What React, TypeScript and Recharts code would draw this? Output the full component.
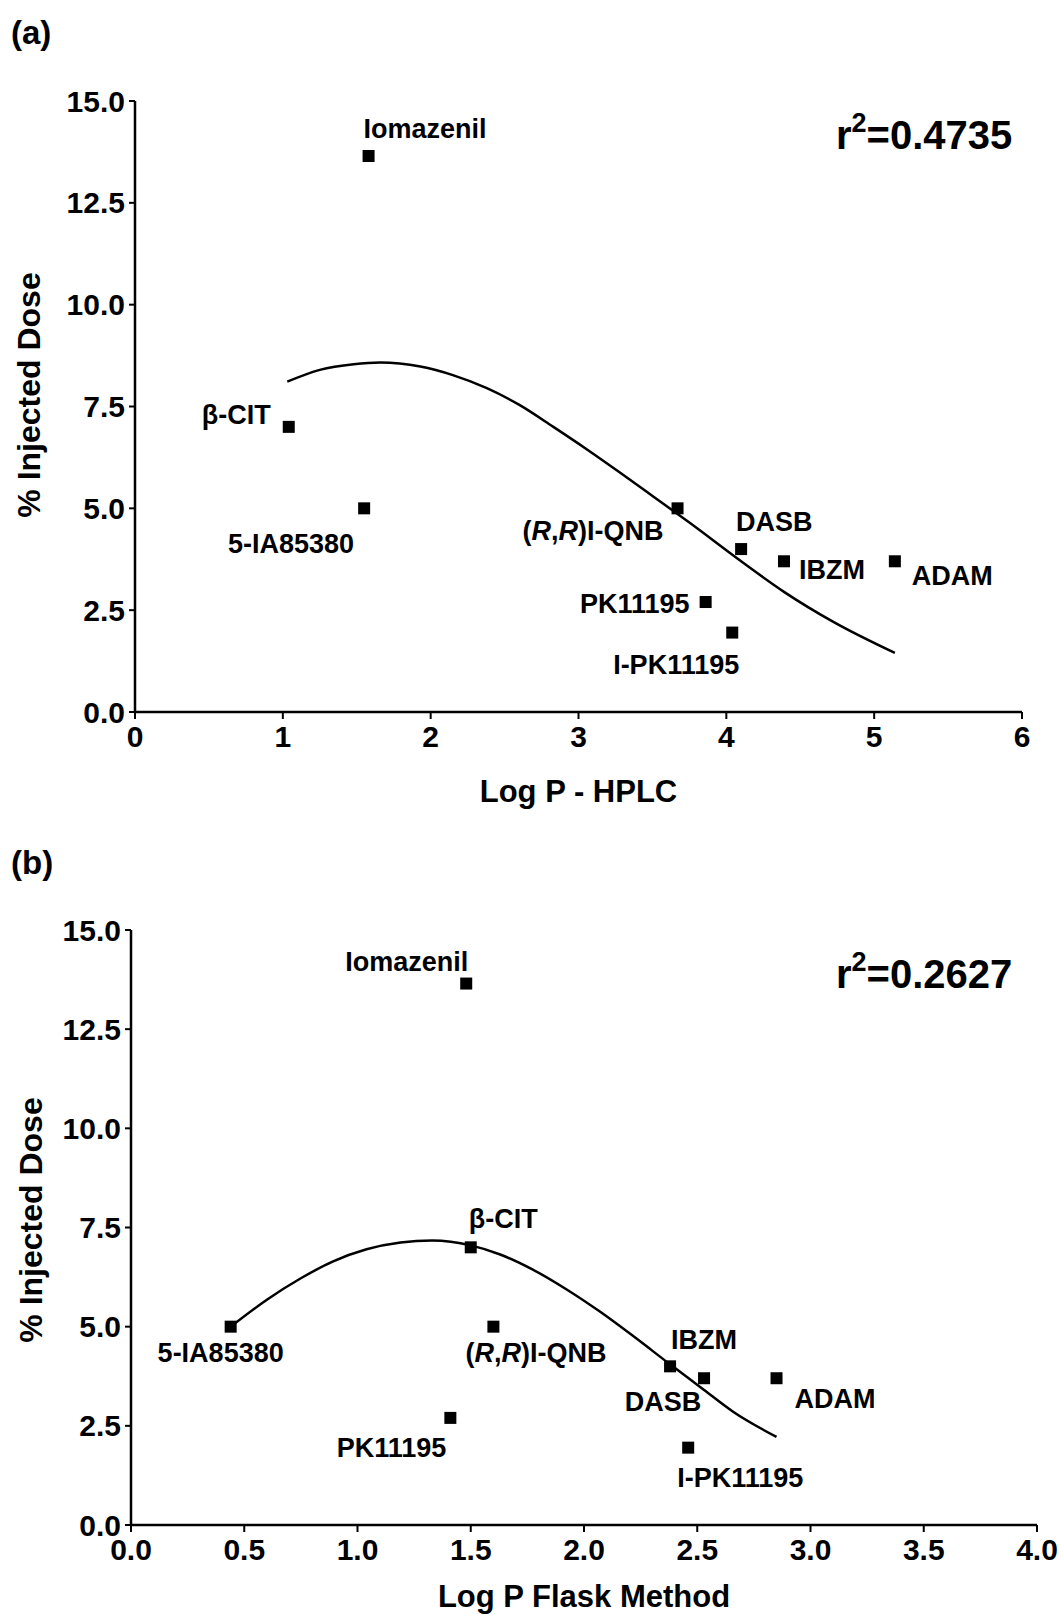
import React from "react";
import { ScatterChart, Scatter, XAxis, YAxis, Label } from "recharts";

const FONT = '"Liberation Sans", Arial, Helvetica, sans-serif';

// compounds, same order in both panels
const compounds = [
  "Iomazenil",
  "β-CIT",
  "5-IA85380",
  "(R,R)I-QNB",
  "DASB",
  "IBZM",
  "ADAM",
  "PK11195",
  "I-PK11195",
];
const injectedDose = [13.65, 7.0, 5.0, 5.0, 4.0, 3.7, 3.7, 2.7, 1.95];
const logPHplc = [1.58, 1.04, 1.55, 3.67, 4.1, 4.39, 5.14, 3.86, 4.04];
const logPFlask = [1.48, 1.5, 0.44, 1.6, 2.38, 2.53, 2.85, 1.41, 2.46];

// fitted curves
const fitHplcX = [1.03, 1.25, 1.48, 1.66, 1.93, 2.15, 2.38, 2.6, 2.83, 3.06, 3.28, 3.51, 3.75, 4.1, 4.39, 4.73, 5.14];
const fitHplcY = [8.11, 8.4, 8.54, 8.58, 8.48, 8.27, 7.95, 7.54, 7.0, 6.44, 5.88, 5.28, 4.65, 3.7, 2.95, 2.2, 1.45];
const fitFlaskX = [0.44, 0.6, 0.75, 0.89, 1.04, 1.19, 1.33, 1.5, 1.63, 1.77, 1.92, 2.07, 2.22, 2.38, 2.52, 2.66, 2.85];
const fitFlaskY = [5.0, 5.68, 6.22, 6.64, 6.95, 7.12, 7.17, 7.05, 6.82, 6.45, 5.95, 5.38, 4.75, 4.05, 3.45, 2.85, 2.22];

const hplcTicks = [0, 1, 2, 3, 4, 5, 6];
const flaskTicks = [0, 0.5, 1, 1.5, 2, 2.5, 3, 3.5, 4];
const doseTicks = [0, 2.5, 5, 7.5, 10, 12.5, 15];

type LabelPos = { dx: number; dy: number; anchor: "start" | "middle" | "end" };

const hplcLabelPos: Record<string, LabelPos> = {
  Iomazenil: { dx: -5, dy: -18, anchor: "start" },
  "β-CIT": { dx: -18, dy: -3, anchor: "end" },
  "5-IA85380": { dx: -10, dy: 45, anchor: "end" },
  "(R,R)I-QNB": { dx: -14, dy: 32, anchor: "end" },
  DASB: { dx: -5, dy: -18, anchor: "start" },
  IBZM: { dx: 15, dy: 18, anchor: "start" },
  ADAM: { dx: 17, dy: 24, anchor: "start" },
  PK11195: { dx: -16, dy: 11, anchor: "end" },
  "I-PK11195": { dx: 7, dy: 41, anchor: "end" },
};

const flaskLabelPos: Record<string, LabelPos> = {
  Iomazenil: { dx: 2, dy: -13, anchor: "end" },
  "β-CIT": { dx: -2, dy: -19, anchor: "start" },
  "5-IA85380": { dx: -10, dy: 35, anchor: "middle" },
  "(R,R)I-QNB": { dx: -28, dy: 35, anchor: "start" },
  DASB: { dx: -7, dy: 45, anchor: "middle" },
  IBZM: { dx: 0, dy: -29, anchor: "middle" },
  ADAM: { dx: 18, dy: 30, anchor: "start" },
  PK11195: { dx: -4, dy: 39, anchor: "end" },
  "I-PK11195": { dx: -11, dy: 39, anchor: "start" },
};

const axisText = { fill: "#000", fontSize: 30, fontWeight: "bold", fontFamily: FONT };

// (R,R) prefix is set in italics
function nameParts(name: string) {
  if (name.startsWith("(R,R)")) {
    return [
      <tspan key="a">(</tspan>,
      <tspan key="b" fontStyle="italic">R</tspan>,
      <tspan key="c">,</tspan>,
      <tspan key="d" fontStyle="italic">R</tspan>,
      <tspan key="e">{")" + name.slice(5)}</tspan>,
    ];
  }
  return name;
}

function makeMarker(pos: Record<string, LabelPos>) {
  return (props: any) => {
    const { cx, cy, payload } = props;
    const p = pos[payload.name];
    return (
      <g>
        <rect x={cx - 6} y={cy - 6} width={12} height={12} fill="#000" />
        <text
          x={cx + p.dx}
          y={cy + p.dy}
          textAnchor={p.anchor}
          fontFamily={FONT}
          fontWeight="bold"
          fontSize={27}
          fill="#000"
        >
          {nameParts(payload.name)}
        </text>
      </g>
    );
  };
}

const yTitle = (x: number, y: number) => () => (
  <text
    x={x}
    y={y}
    transform={`rotate(-90 ${x} ${y})`}
    textAnchor="middle"
    fontFamily={FONT}
    fontWeight="bold"
    fontSize={32}
    fill="#000"
  >
    % Injected Dose
  </text>
);

function Panel({
  xs,
  fitX,
  fitY,
  ticks,
  xMax,
  xTitle,
  labelPos,
  height,
  margin,
  xAxisHeight,
  xTitleOffset,
  yTitlePos,
  fmt,
}: {
  xs: number[];
  fitX: number[];
  fitY: number[];
  ticks: number[];
  xMax: number;
  xTitle: string;
  labelPos: Record<string, LabelPos>;
  height: number;
  margin: { top: number; right: number; left: number; bottom: number };
  xAxisHeight: number;
  xTitleOffset: number;
  yTitlePos: [number, number];
  fmt: (v: number) => string;
}) {
  const points = compounds.map((name, i) => ({ name, x: xs[i], y: injectedDose[i] }));
  const fit = fitX.map((x, i) => ({ x, y: fitY[i] }));
  return (
    <ScatterChart width={1061} height={height} margin={margin}>
      <XAxis
        type="number"
        dataKey="x"
        domain={[0, xMax]}
        ticks={ticks}
        interval={0}
        height={xAxisHeight}
        axisLine={{ stroke: "#000", strokeWidth: 2.5 }}
        tickLine={{ stroke: "#000", strokeWidth: 2 }}
        tickSize={7}
        tickMargin={7}
        tick={axisText}
        tickFormatter={fmt}
      >
        <Label
          value={xTitle}
          position="insideBottom"
          offset={xTitleOffset}
          fill="#000"
          fontSize={31}
          fontWeight="bold"
          fontFamily={FONT}
        />
      </XAxis>
      <YAxis
        type="number"
        dataKey="y"
        domain={[0, 15]}
        ticks={doseTicks}
        interval={0}
        width={80}
        axisLine={{ stroke: "#000", strokeWidth: 2.5 }}
        tickLine={{ stroke: "#000", strokeWidth: 2 }}
        tickSize={6}
        tickMargin={4}
        tick={axisText}
        tickFormatter={(v: number) => v.toFixed(1)}
      >
        <Label content={yTitle(yTitlePos[0], yTitlePos[1])} />
      </YAxis>
      <Scatter
        data={fit}
        line={{ stroke: "#000", strokeWidth: 2.5 }}
        lineJointType="monotoneX"
        shape={() => <g />}
        isAnimationActive={false}
      />
      <Scatter data={points} shape={makeMarker(labelPos)} isAnimationActive={false} />
    </ScatterChart>
  );
}

const heading = { position: "absolute" as const, fontFamily: FONT, fontWeight: "bold" as const, color: "#000", lineHeight: 1 };

export default function App() {
  return (
    <div style={{ position: "absolute", left: 0, top: 0, width: 1061, height: 1615, background: "#fff", overflow: "hidden" }}>
      <div style={{ position: "absolute", left: 0, top: 0 }}>
        <Panel
          xs={logPHplc}
          fitX={fitHplcX}
          fitY={fitHplcY}
          ticks={hplcTicks}
          xMax={6}
          xTitle="Log P - HPLC"
          labelPos={hplcLabelPos}
          height={820}
          margin={{ top: 101, right: 39, left: 55, bottom: 8 }}
          xAxisHeight={100}
          xTitleOffset={10}
          yTitlePos={[40, 395]}
          fmt={(v: number) => String(v)}
        />
      </div>
      <div style={{ position: "absolute", left: 0, top: 820 }}>
        <Panel
          xs={logPFlask}
          fitX={fitFlaskX}
          fitY={fitFlaskY}
          ticks={flaskTicks}
          xMax={4}
          xTitle="Log P Flask Method"
          labelPos={flaskLabelPos}
          height={795}
          margin={{ top: 110, right: 24, left: 51, bottom: 0 }}
          xAxisHeight={90}
          xTitleOffset={8}
          yTitlePos={[42, 400]}
          fmt={(v: number) => v.toFixed(1)}
        />
      </div>
      <div style={{ ...heading, left: 11, top: 16, fontSize: 33 }}>(a)</div>
      <div style={{ ...heading, left: 11, top: 846, fontSize: 33 }}>(b)</div>
      <div style={{ ...heading, left: 836, top: 115, fontSize: 40 }}>
        r<span style={{ fontSize: 27, position: "relative", top: -17 }}>2</span>=0.4735
      </div>
      <div style={{ ...heading, left: 836, top: 954, fontSize: 40 }}>
        r<span style={{ fontSize: 27, position: "relative", top: -17 }}>2</span>=0.2627
      </div>
    </div>
  );
}
